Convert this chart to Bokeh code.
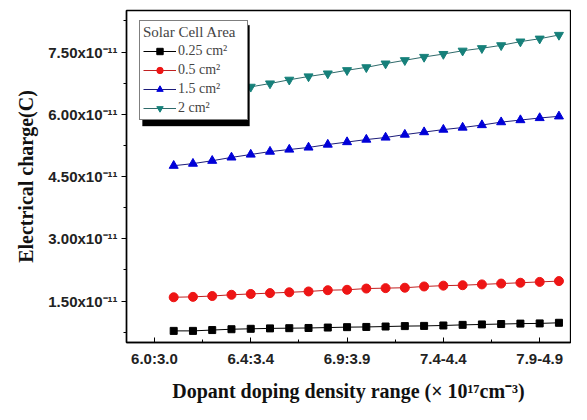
from bokeh.plotting import figure
from bokeh.models import FixedTicker, CustomJSTickFormatter, Legend, LegendItem, BoxAnnotation
from bokeh.embed import file_html
from bokeh.resources import INLINE

# x positions: index of each doping step (major ticks every 5 steps)
x_index = list(range(1, 22))
x_tick_pos = [0, 5, 10, 15, 20]
x_tick_labels = ["6.0:3.0", "6.4:3.4", "6.9:3.9", "7.4-4.4", "7.9-4.9"]
y_ticks = [1.5, 3.0, 4.5, 6.0, 7.5]          # in units of 1e-11 C
y_minor = [0.75, 2.25, 3.75, 5.25, 6.75, 8.25]

series_names = ["0.25 cm²", "0.5 cm²", "1.5 cm²", "2 cm²"]
# Electrical charge, units of 1e-11 C
q_025 = [0.78, 0.78, 0.80, 0.82, 0.83, 0.84, 0.845, 0.85, 0.86, 0.87, 0.875,
         0.885, 0.895, 0.90, 0.91, 0.925, 0.935, 0.945, 0.955, 0.96, 0.975]
q_05 = [1.59, 1.60, 1.62, 1.65, 1.67, 1.69, 1.71, 1.73, 1.76, 1.77, 1.80,
        1.81, 1.82, 1.85, 1.87, 1.88, 1.90, 1.92, 1.94, 1.96, 1.98]
q_15 = [4.76, 4.81, 4.88, 4.96, 5.03, 5.10, 5.15, 5.20, 5.27, 5.33, 5.39,
        5.44, 5.51, 5.57, 5.63, 5.68, 5.74, 5.81, 5.86, 5.91, 5.95]
q_2 = [6.36, 6.44, 6.51, 6.59, 6.66, 6.74, 6.83, 6.91, 6.98, 7.06, 7.13,
       7.22, 7.30, 7.38, 7.45, 7.53, 7.59, 7.66, 7.75, 7.82, 7.91]

x_title = "Dopant doping density range (× 10¹⁷cm⁻³)"

X0, X1 = -1.45, 21.6
Y0, Y1 = 0.5, 8.5
W, H = 571, 404
BL, BR, BT, BB = 126, 1, 10, 58
FW, FH = W - BL - BR, H - BT - BB
px_x = (X1 - X0) / FW
px_y = (Y1 - Y0) / FH

p = figure(width=W, height=H, x_range=(X0, X1), y_range=(Y0, Y1),
           output_backend="svg", toolbar_location=None,
           min_border_left=BL, min_border_right=BR, min_border_top=BT,
           min_border_bottom=BB)
p.xgrid.visible = False
p.ygrid.visible = False
p.outline_line_color = "black"
p.outline_line_width = 1.3
p.background_fill_color = "white"
p.border_fill_color = "white"

styles = [
    dict(marker="square", size=7, fill="black", mline="black", line="black"),
    dict(marker="circle", size=9, fill="#ee1515", mline="#ee1515", line="#c02020"),
    dict(marker="triangle", size=9, fill="#0000d8", mline="#0000d8", line="#1c1c7a"),
    dict(marker="inverted_triangle", size=9, fill="#16807a", mline="#16807a", line="#2f6a6a"),
]
data = [q_025, q_05, q_15, q_2]

items = []
for name, ys, st in zip(series_names, data, styles):
    rl = p.line(x_index, ys, line_color=st["line"], line_width=1)
    rm = p.scatter(x_index, ys, marker=st["marker"], size=st["size"],
                   fill_color=st["fill"], line_color=st["mline"])
    items.append(LegendItem(label=name, renderers=[rl, rm]))

# x axis
xa = p.xaxis[0]
xa.ticker = FixedTicker(ticks=x_tick_pos, minor_ticks=[2.5, 7.5, 12.5, 17.5])
xa.major_label_overrides = {k: v for k, v in zip(x_tick_pos, x_tick_labels)}
xa.major_tick_in = 5
xa.major_tick_out = 0
xa.minor_tick_in = 3
xa.minor_tick_out = 0
xa.major_label_standoff = 7
xa.major_label_text_font = "Liberation Sans"
xa.major_label_text_font_style = "bold"
xa.major_label_text_font_size = "15px"
xa.major_label_text_color = "#222222"
xa.axis_label = x_title
xa.axis_label_text_font = "Liberation Serif"
xa.axis_label_text_font_style = "bold"
xa.axis_label_text_font_size = "20px"
xa.axis_label_text_color = "#111111"
xa.axis_label_standoff = 10
xa.axis_line_width = 1.5

# y axis
ya = p.yaxis[0]
ya.ticker = FixedTicker(ticks=y_ticks, minor_ticks=y_minor)
ya.formatter = CustomJSTickFormatter(code="return tick.toFixed(2) + 'x10\u207b\u00b9\u00b9';")
ya.major_tick_in = 0
ya.major_tick_out = 5
ya.minor_tick_in = 0
ya.minor_tick_out = 3
ya.major_label_standoff = 4
ya.major_label_text_font = "Liberation Sans"
ya.major_label_text_font_style = "bold"
ya.major_label_text_font_size = "15px"
ya.major_label_text_color = "#222222"
ya.axis_label = "Electrical charge(C)"
ya.axis_label_text_font = "Liberation Serif"
ya.axis_label_text_font_style = "bold"
ya.axis_label_text_font_size = "20px"
ya.axis_label_text_color = "#111111"
ya.axis_label_standoff = 8
ya.axis_line_width = 1.5

# legend geometry (pixels inside the frame)
LG_L, LG_T, LG_W, LG_H = 13, 12, 107, 102
SH = 3
shadow = BoxAnnotation(left=X0 + (LG_L + SH) * px_x, right=X0 + (LG_L + LG_W + SH) * px_x,
                       top=Y1 - (LG_T + SH) * px_y, bottom=Y1 - (LG_T + LG_H + SH) * px_y,
                       fill_color="black", fill_alpha=1.0, line_color="black")
p.add_layout(shadow)

lg = Legend(items=items, title="Solar Cell Area", location=(LG_L, FH - LG_T - LG_H))
lg.title_text_font = "Liberation Serif"
lg.title_text_font_size = "15px"
lg.title_text_font_style = "normal"
lg.title_standoff = 2
lg.label_text_font = "Liberation Serif"
lg.label_text_font_size = "14px"
lg.glyph_width = 33
lg.glyph_height = 16
lg.label_height = 16
lg.label_width = 66
lg.spacing = 3
lg.padding = 3
lg.label_standoff = 2
lg.border_line_color = "black"
lg.border_line_width = 1.5
lg.background_fill_color = "white"
lg.background_fill_alpha = 1.0
p.add_layout(lg, "center")

open("out.html", "w").write(file_html(p, INLINE))
